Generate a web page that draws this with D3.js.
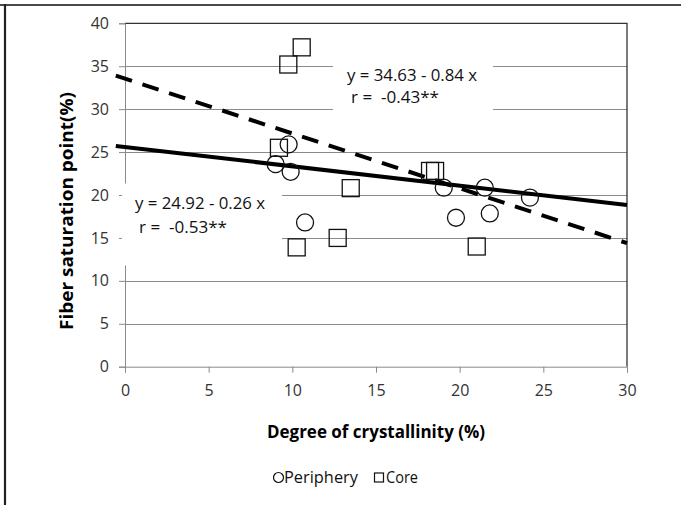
<!DOCTYPE html>
<html><head><meta charset="utf-8">
<script src="https://cdn.jsdelivr.net/npm/d3@7"></script>
<style>html,body{margin:0;padding:0;background:#fff;} text{font-family:"Open Sans",sans-serif;white-space:pre;}</style>
</head><body><svg id="c" width="681" height="505"></svg>
<script>
// ---- data ----
const seriesNames = ["Periphery", "Core"];
const peripheryX = [9.0, 9.78, 9.9, 10.76, 19.05, 19.78, 21.5, 21.8, 24.2];
const peripheryY = [23.6, 25.9, 22.7, 16.8, 20.85, 17.35, 20.85, 17.85, 19.7];
const coreX = [9.2, 9.76, 10.26, 10.56, 12.71, 13.49, 18.23, 18.53, 21.02];
const coreY = [25.5, 35.2, 13.9, 37.2, 15.0, 20.8, 22.8, 22.8, 14.0];
const trendX = [-0.55, 30];
const trendSolidY = [25.72, 18.84];   // periphery fit line
const trendDashedY = [33.9, 14.4];    // core fit line
const xTicks = [0, 5, 10, 15, 20, 25, 30];
const yTicks = [0, 5, 10, 15, 20, 25, 30, 35, 40];
const eqPeriphery = ["y = 24.92 - 0.26 x", "r =  -0.53**"];
const eqCore = ["y = 34.63 - 0.84 x", "r =  -0.43**"];
const xTitle = "Degree of crystallinity (%)";
const yTitle = "Fiber saturation point(%)";

// ---- layout ----
const FONT = "'Open Sans', sans-serif";
const svg = d3.select("#c");
const L = 125, R = 627, T = 23.3, B = 366.7;
const x = d3.scaleLinear().domain([0, 30]).range([L, R]);
const y = d3.scaleLinear().domain([0, 40]).range([B, T]);

// outer frame (top + left)
svg.append("line").attr("x1", 0).attr("x2", 681).attr("y1", 5).attr("y2", 5).attr("stroke", "#4a4a4a").attr("stroke-width", 2);
svg.append("line").attr("x1", 5).attr("x2", 5).attr("y1", 4).attr("y2", 505).attr("stroke", "#222").attr("stroke-width", 2.2);

// gridlines
svg.append("g").selectAll("line").data(yTicks.filter(d => d > 0 && d < 40)).join("line")
  .attr("x1", L).attr("x2", R).attr("y1", d => Math.round(y(d)) + 0.5).attr("y2", d => Math.round(y(d)) + 0.5)
  .attr("stroke", "#8a8a8a").attr("stroke-width", 1);

// plot border top + right
svg.append("path").attr("d", `M${L},${T}H${R}V${B}`).attr("fill", "none").attr("stroke", "#333").attr("stroke-width", 1.3);

// axes
const yAxis = d3.axisLeft(y).tickValues(yTicks).tickSize(6).tickPadding(10).tickFormat(d3.format("d"));
const gy = svg.append("g").attr("transform", `translate(${L},0)`).call(yAxis);
gy.select(".domain").attr("stroke", "#8a8a8a");
gy.selectAll(".tick line").attr("stroke", "#8a8a8a");
gy.selectAll(".tick text").attr("font-size", 16).attr("fill", "#333").attr("font-family", FONT);

const xAxis = d3.axisBottom(x).tickValues(xTicks).tickSize(6).tickPadding(12).tickFormat(d3.format("d"));
const gx = svg.append("g").attr("transform", `translate(0,${B})`).call(xAxis);
gx.select(".domain").attr("stroke", "#8a8a8a");
gx.selectAll(".tick line").attr("stroke", "#8a8a8a");
gx.selectAll(".tick text").attr("font-size", 16).attr("fill", "#333").attr("font-family", FONT);

// equation label boxes (white background over grid)
function eqBox(lines, bx, by, bw, bh, tx, ty1, ty2, tx2) {
  svg.append("rect").attr("x", bx).attr("y", by).attr("width", bw).attr("height", bh).attr("fill", "#fff");
  svg.append("text").attr("x", tx).attr("y", ty1).attr("font-size", 17).attr("fill", "#111")
    .attr("textLength", 130).attr("lengthAdjust", "spacingAndGlyphs").text(lines[0]);
  svg.append("text").attr("x", tx2).attr("y", ty2).attr("font-size", 17).attr("fill", "#111")
    .attr("textLength", 88).attr("lengthAdjust", "spacingAndGlyphs").text(lines[1]);
}
eqBox(eqPeriphery, 122, 183.5, 160, 82, 135, 209, 233, 139);
eqBox(eqCore, 333, 55, 160, 75, 347, 81, 103, 351);

// trend lines
const line = d3.line().x(d => x(d[0])).y(d => y(d[1]));
svg.append("path").datum(d3.zip(trendX, trendDashedY)).attr("d", line)
  .attr("fill", "none").attr("stroke", "#000").attr("stroke-width", 4).attr("stroke-dasharray", "17,11");
svg.append("path").datum(d3.zip(trendX, trendSolidY)).attr("d", line)
  .attr("fill", "none").attr("stroke", "#000").attr("stroke-width", 4);

// points
svg.append("g").selectAll("circle").data(d3.zip(peripheryX, peripheryY)).join("circle")
  .attr("cx", d => x(d[0])).attr("cy", d => y(d[1])).attr("r", 8.5)
  .attr("fill", "none").attr("stroke", "#111").attr("stroke-width", 1.3);
const s = 17;
svg.append("g").selectAll("rect").data(d3.zip(coreX, coreY)).join("rect")
  .attr("x", d => x(d[0]) - s / 2).attr("y", d => y(d[1]) - s / 2).attr("width", s).attr("height", s)
  .attr("fill", "none").attr("stroke", "#111").attr("stroke-width", 1.3);

// axis titles
svg.append("text").attr("x", 376).attr("y", 438).attr("text-anchor", "middle")
  .attr("font-size", 18).attr("font-weight", "bold").attr("fill", "#000")
  .attr("textLength", 218).attr("lengthAdjust", "spacingAndGlyphs").text(xTitle);
svg.append("text").attr("transform", "translate(73,211) rotate(-90)").attr("text-anchor", "middle")
  .attr("font-size", 18).attr("font-weight", "bold").attr("fill", "#000")
  .attr("textLength", 238).attr("lengthAdjust", "spacingAndGlyphs").text(yTitle);

// legend
const lg = svg.append("g");
lg.append("circle").attr("cx", 278.5).attr("cy", 477.5).attr("r", 5).attr("fill", "none").attr("stroke", "#111").attr("stroke-width", 1.2);
lg.append("text").attr("x", 284).attr("y", 483).attr("font-size", 15.5).attr("fill", "#111").attr("textLength", 74).attr("lengthAdjust", "spacingAndGlyphs").text(seriesNames[0]);
lg.append("rect").attr("x", 374.5).attr("y", 473).attr("width", 9).attr("height", 9).attr("fill", "none").attr("stroke", "#111").attr("stroke-width", 1.2);
lg.append("text").attr("x", 386).attr("y", 483).attr("font-size", 15.5).attr("fill", "#111").attr("textLength", 32).attr("lengthAdjust", "spacingAndGlyphs").text(seriesNames[1]);
</script></body></html>
